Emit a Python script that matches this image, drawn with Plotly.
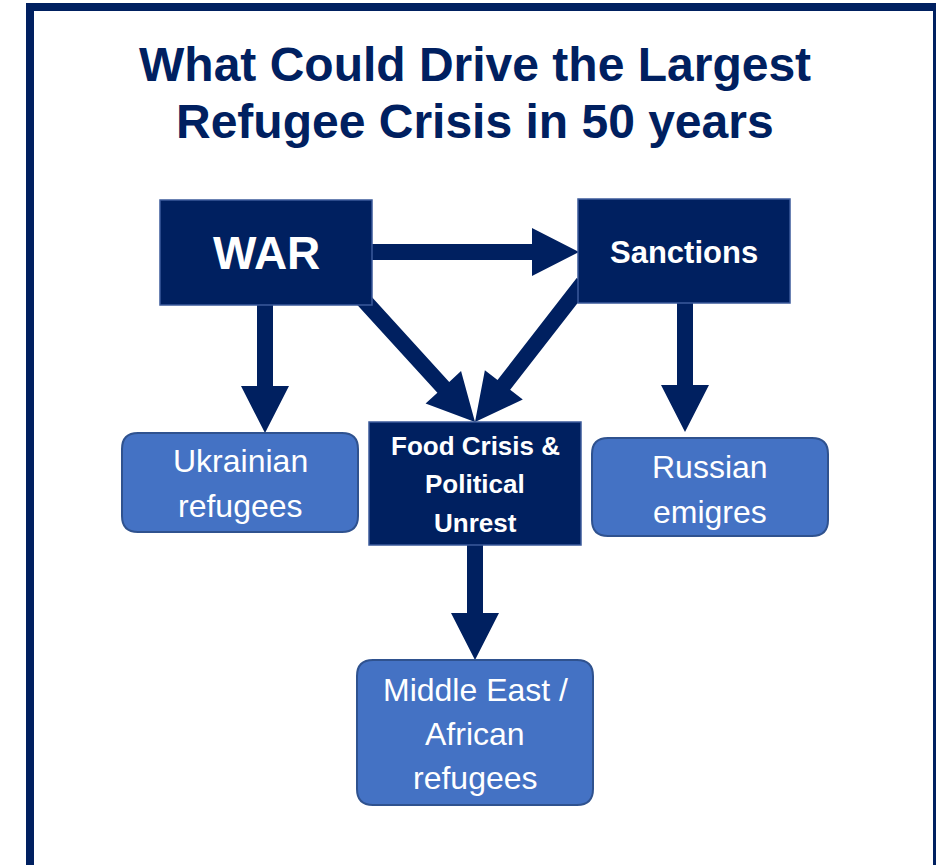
import plotly.graph_objects as go

# ---- content -------------------------------------------------------------
title_lines = ["What Could Drive the Largest", "Refugee Crisis in 50 years"]

node_ids = ["war", "sanctions", "food", "ukraine", "russia", "mideast"]
node_labels = {
    "war": ["WAR"],
    "sanctions": ["Sanctions"],
    "food": ["Food Crisis &", "Political", "Unrest"],
    "ukraine": ["Ukrainian", "refugees"],
    "russia": ["Russian", "emigres"],
    "mideast": ["Middle East /", "African", "refugees"],
}
# drivers (dark, square) vs. outcomes (light, rounded)
node_kind = {
    "war": "driver", "sanctions": "driver", "food": "driver",
    "ukraine": "outcome", "russia": "outcome", "mideast": "outcome",
}
edges = [
    ("war", "sanctions"),
    ("war", "ukraine"),
    ("war", "food"),
    ("sanctions", "food"),
    ("sanctions", "russia"),
    ("food", "mideast"),
]

# ---- geometry (pixel space, y grows downward) ----------------------------
W, H = 936, 865
box = {  # x0, y0, x1, y1
    "war": (160, 200, 372, 305),
    "sanctions": (578, 199, 790, 303),
    "food": (369, 422, 581, 545),
    "ukraine": (122, 433, 358, 532),
    "russia": (592, 438, 828, 536),
    "mideast": (357, 660, 593, 805),
}
# first text line centre y, line step, font size
text_pos = {
    "war": (253, 0, 46),
    "sanctions": (252, 0, 31),
    "food": (445.5, 38.5, 26),
    "ukraine": (461, 45, 32),
    "russia": (467, 45, 32),
    "mideast": (689.5, 44, 32),
}
arrow_ends = {  # tail (x, y), tip (x, y)
    ("war", "sanctions"): ((365, 252), (579, 252)),
    ("war", "ukraine"): ((265, 300), (265, 433)),
    ("war", "food"): ((350, 285), (475, 422)),
    ("sanctions", "food"): ((583, 283), (475, 422)),
    ("sanctions", "russia"): ((685, 298), (685, 432)),
    ("food", "mideast"): ((475, 540), (475, 660)),
}

NAVY = "#002060"
DRIVER_EDGE = "#3B5A9A"
OUT_FILL = "#4472C4"
OUT_EDGE = "#2F528F"
SANS = "Liberation Sans, Arial, sans-serif"

SHAFT_W, HEAD_W, HEAD_L = 16, 48, 47


def block_arrow(tail, tip):
    (x0, y0), (x1, y1) = tail, tip
    dx, dy = x1 - x0, y1 - y0
    L = (dx * dx + dy * dy) ** 0.5
    ux, uy = dx / L, dy / L
    px, py = -uy, ux
    bx, by = x1 - ux * HEAD_L, y1 - uy * HEAD_L
    s, h = SHAFT_W / 2, HEAD_W / 2
    pts = [
        (x0 + px * s, y0 + py * s),
        (bx + px * s, by + py * s),
        (bx + px * h, by + py * h),
        (x1, y1),
        (bx - px * h, by - py * h),
        (bx - px * s, by - py * s),
        (x0 - px * s, y0 - py * s),
    ]
    return "M " + " L ".join(f"{x:.2f},{y:.2f}" for x, y in pts) + " Z"


def rounded_rect(x0, y0, x1, y1, r):
    return (
        f"M {x0 + r},{y0} L {x1 - r},{y0} Q {x1},{y0} {x1},{y0 + r} "
        f"L {x1},{y1 - r} Q {x1},{y1} {x1 - r},{y1} "
        f"L {x0 + r},{y1} Q {x0},{y1} {x0},{y1 - r} "
        f"L {x0},{y0 + r} Q {x0},{y0} {x0 + r},{y0} Z"
    )


shapes = []
annotations = []

# outer frame
shapes.append(dict(type="rect", xref="x", yref="y", x0=30, y0=7, x1=937, y1=880,
                   line=dict(color=NAVY, width=8), fillcolor="rgba(0,0,0,0)"))

# arrows first so the boxes sit on top of the arrow tails
for e in edges:
    tail, tip = arrow_ends[e]
    shapes.append(dict(type="path", xref="x", yref="y", path=block_arrow(tail, tip),
                       fillcolor=NAVY, line=dict(width=0)))

for n in node_ids:
    x0, y0, x1, y1 = box[n]
    if node_kind[n] == "driver":
        shapes.append(dict(type="rect", xref="x", yref="y", x0=x0, y0=y0, x1=x1, y1=y1,
                           fillcolor=NAVY, line=dict(color=DRIVER_EDGE, width=1.5)))
        bold = True
    else:
        shapes.append(dict(type="path", xref="x", yref="y",
                           path=rounded_rect(x0, y0, x1, y1, 16),
                           fillcolor=OUT_FILL, line=dict(color=OUT_EDGE, width=2)))
        bold = False
    ty, step, size = text_pos[n]
    cx = (x0 + x1) / 2
    for i, line in enumerate(node_labels[n]):
        annotations.append(dict(
            x=cx, y=ty + i * step, xref="x", yref="y", showarrow=False,
            text=f"<b>{line}</b>" if bold else line,
            font=dict(family=SANS, size=size, color="white"),
            xanchor="center", yanchor="middle"))

for i, line in enumerate(title_lines):
    annotations.append(dict(
        x=475, y=64.5 + i * 57, xref="x", yref="y", showarrow=False,
        text=f"<b>{line}</b>", font=dict(family=SANS, size=48, color=NAVY),
        xanchor="center", yanchor="middle"))

fig = go.Figure()
fig.update_layout(
    width=W, height=H, autosize=False,
    margin=dict(l=0, r=0, t=0, b=0, pad=0),
    paper_bgcolor="white", plot_bgcolor="white",
    xaxis=dict(range=[0, W], visible=False, fixedrange=True),
    yaxis=dict(range=[H, 0], visible=False, fixedrange=True),
    shapes=shapes, annotations=annotations, showlegend=False,
)
fig.write_html("out.html", config={"displayModeBar": False})
